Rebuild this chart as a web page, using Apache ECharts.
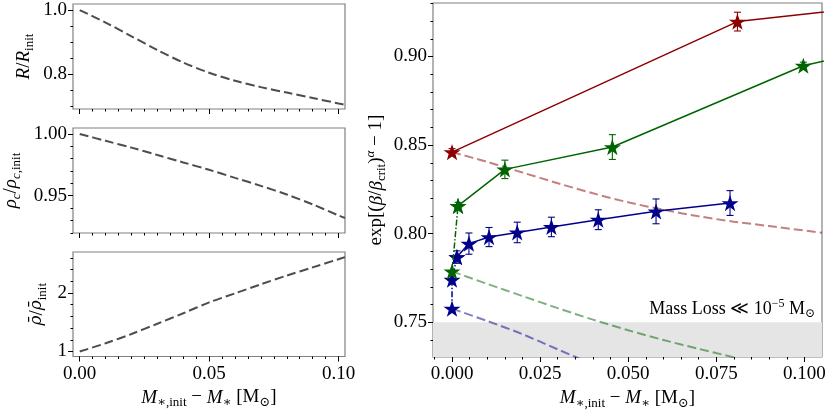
<!DOCTYPE html>
<html>
<head>
<meta charset="utf-8">
<script src="https://cdn.jsdelivr.net/npm/echarts@6/dist/echarts.min.js"></script>
<style>
html, body { margin: 0; padding: 0; background: #fff; }
#chart { width: 830px; height: 415px; }
</style>
</head>
<body>
<div id="chart"></div>
<script>
var FONT = '"Liberation Serif", "DejaVu Serif", serif';

// left column: stellar structure vs. mass lost
var leftX = [0, 0.01, 0.02, 0.03, 0.04, 0.05, 0.06, 0.07, 0.08, 0.09, 0.10, 0.1025];
var radiusRatio = [1.0, 0.961, 0.918, 0.875, 0.836, 0.804, 0.779, 0.759, 0.742, 0.725, 0.708, 0.704];
var centralDensityRatio = [1.0, 0.9945, 0.989, 0.983, 0.977, 0.971, 0.9645, 0.958, 0.951, 0.943, 0.934, 0.932];
var meanDensityRatio = [1.0, 1.14, 1.30, 1.475, 1.655, 1.84, 1.995, 2.15, 2.30, 2.44, 2.58, 2.615];

// right panel: measured points (last red/green point lies past the axis edge)
var redX = [0, 0.081, 0.13];
var redY = [0.846, 0.9197, 0.9305];
var redErr = [0.002, 0.0053, 0];
var greenX = [0.0017, 0.015, 0.0455, 0.0997, 0.13];
var greenY = [0.8157, 0.8363, 0.8489, 0.8948, 0.9085];
var greenErr = [0.002, 0.0052, 0.007, 0.002, 0];
var greenLowX = [0, 0.0017];
var greenLowY = [0.7787, 0.8157];
var blueX = [0.0014, 0.0048, 0.0105, 0.0185, 0.0282, 0.0415, 0.0579, 0.0789];
var blueY = [0.7868, 0.7944, 0.7981, 0.8007, 0.8038, 0.8079, 0.8126, 0.8173];
var blueErr = [0.0035, 0.006, 0.0054, 0.0058, 0.0055, 0.0056, 0.007, 0.007];
var blueLowX = [0, 0, 0.0014];
var blueLowY = [0.7577, 0.774, 0.7868];

// faded model tracks
var trackX = [0, 0.01, 0.02, 0.03, 0.04, 0.05, 0.06, 0.07, 0.08, 0.09, 0.105];
var redTrack = [0.846, 0.8405, 0.8345, 0.8285, 0.8228, 0.8177, 0.8135, 0.8098, 0.8068, 0.8043, 0.8005];
var greenTrackX = [0, 0.01, 0.02, 0.03, 0.04, 0.05, 0.06, 0.07, 0.08];
var greenTrack = [0.7787, 0.7717, 0.7648, 0.758, 0.7515, 0.7455, 0.7400, 0.7350, 0.7302];
var blueTrackX = [0, 0.01, 0.02, 0.03, 0.04];
var blueTrack = [0.7577, 0.7507, 0.7433, 0.7347, 0.7262];
var shadeTop = 0.75;

// ticks
var leftXTicks = [0, 0.05, 0.10];
var rTicks = [0.8, 1.0];
var rhoCTicks = [0.95, 1.00];
var rhoBarTicks = [1, 2];
var rightXTicks = [0, 0.025, 0.05, 0.075, 0.10];
var rightYTicks = [0.75, 0.80, 0.85, 0.90];

function steps(a, b, d) {
    var out = [];
    for (var v = a; v <= b + 1e-9; v += d) out.push(+v.toFixed(6));
    return out;
}

var STAR = 'path://M50,0 L61.8,35.1 L98.1,35.1 L68.8,56.7 L79.4,91.6 L50,70 L20.6,91.6 L31.2,56.7 L1.9,35.1 L38.2,35.1 Z';
var RED = '#8b0000', GREEN = '#006400', BLUE = '#00008b';

var rich = {
    r: { fontFamily: FONT, fontSize: 19, color: '#000' },
    i: { fontFamily: FONT, fontSize: 19, fontStyle: 'italic', color: '#000' },
    ib: { fontFamily: '"DejaVu Serif"', fontSize: 17, fontStyle: 'italic', color: '#000' },
    s: { fontFamily: FONT, fontSize: 13, color: '#000', padding: [11, 0, 0, 0] },
    si: { fontFamily: FONT, fontSize: 13, fontStyle: 'italic', color: '#000', padding: [11, 0, 0, 0] },
    p: { fontFamily: FONT, fontSize: 13, color: '#000', padding: [0, 0, 12, 0] },
    pi: { fontFamily: FONT, fontSize: 13, fontStyle: 'italic', color: '#000', padding: [0, 0, 12, 0] }
};
var massLabel = '{i|M}{s|∗,init}{r| − }{i|M}{s|∗}{r| [M}{s|⊙}{r|]}';

var grids = [], xAxes = [], yAxes = [], series = [];

function addPanel(g, xr, yr, xt, xminor, yt, yminor, xfmt, yfmt, xname, yname, ygap, showX) {
    grids.push(Object.assign({ show: true, borderColor: '#808080', borderWidth: 1.2, outerBoundsMode: 'none' }, g));
    var gi = grids.length - 1;
    var tickStyle = { color: '#000', width: 1 };
    var lab = { fontFamily: FONT, fontSize: 19, color: '#000' };
    var noLine = { show: false, onZero: false };
    xAxes.push({
        type: 'value', gridIndex: gi, position: 'bottom', min: xr[0], max: xr[1],
        axisLine: noLine, splitLine: { show: false },
        axisTick: { show: true, customValues: xt, length: 5, lineStyle: tickStyle },
        axisLabel: Object.assign({ show: showX, customValues: xt, margin: 8, formatter: xfmt }, lab),
        name: xname, nameLocation: 'middle', nameGap: 29,
        nameTextStyle: { rich: rich, fontFamily: FONT, fontSize: 19 }
    });
    var xi = xAxes.length - 1;
    xAxes.push({
        type: 'value', gridIndex: gi, position: 'bottom', min: xr[0], max: xr[1],
        axisLine: noLine, splitLine: { show: false },
        axisTick: { show: true, customValues: xminor, length: 2.5, lineStyle: tickStyle },
        axisLabel: { show: false }
    });
    yAxes.push({
        type: 'value', gridIndex: gi, position: 'left', min: yr[0], max: yr[1],
        axisLine: noLine, splitLine: { show: false },
        axisTick: { show: true, customValues: yt, length: 5, lineStyle: tickStyle },
        axisLabel: Object.assign({ customValues: yt, margin: 6, formatter: yfmt }, lab),
        name: yname, nameLocation: 'middle', nameGap: ygap, nameRotate: 90,
        nameTextStyle: { rich: rich, fontFamily: FONT, fontSize: 19 }
    });
    var yi = yAxes.length - 1;
    yAxes.push({
        type: 'value', gridIndex: gi, position: 'left', min: yr[0], max: yr[1],
        axisLine: noLine, splitLine: { show: false },
        axisTick: { show: true, customValues: yminor, length: 2.5, lineStyle: tickStyle },
        axisLabel: { show: false }
    });
    return [xi, yi];
}

function line(xs, ys, color, dash, width, symbols, ax, z, smooth) {
    return {
        type: 'line', xAxisIndex: ax[0], yAxisIndex: ax[1], z: z,
        data: xs.map(function (x, k) { return [x, ys[k]]; }),
        smooth: smooth || false, clip: true,
        showSymbol: symbols, symbol: STAR, symbolSize: 17, symbolKeepAspect: true,
        itemStyle: { color: color, borderWidth: 0 },
        lineStyle: { color: color, width: width, type: dash },
        emphasis: { disabled: true }, silent: true, animation: false
    };
}

function errorBars(xs, ys, es, color, ax) {
    return {
        type: 'custom', xAxisIndex: ax[0], yAxisIndex: ax[1], z: 4, clip: true,
        data: xs.map(function (x, k) { return [x, ys[k], es[k]]; }),
        encode: { x: 0, y: 1 }, silent: true, animation: false,
        renderItem: function (params, api) {
            var x = api.value(0), y = api.value(1), e = api.value(2);
            var top = api.coord([x, y + e]), bot = api.coord([x, y - e]);
            var cap = 3.5;
            var st = { stroke: color, lineWidth: 1.1 };
            return {
                type: 'group', children: [
                    { type: 'line', shape: { x1: top[0], y1: top[1], x2: bot[0], y2: bot[1] }, style: st },
                    { type: 'line', shape: { x1: top[0] - cap, y1: top[1], x2: top[0] + cap, y2: top[1] }, style: st },
                    { type: 'line', shape: { x1: bot[0] - cap, y1: bot[1], x2: bot[0] + cap, y2: bot[1] }, style: st }
                ]
            };
        }
    };
}

var f2 = function (v) { return v.toFixed(2); };
var LX = [-0.0026, 0.1025];
var leftMinor = steps(0, 0.10, 0.005);

var p1 = addPanel({ left: 73, top: 4, width: 272, height: 105 }, LX, [0.6906, 1.019],
    leftXTicks, leftMinor, rTicks, steps(0.70, 1.0, 0.05), f2, function (v) { return v.toFixed(1); },
    '', '{i|R}{r|/}{i|R}{s|init}', 37, false);
var p2 = addPanel({ left: 73, top: 128, width: 272, height: 105 }, LX, [0.9198, 1.0049],
    leftXTicks, leftMinor, rhoCTicks, steps(0.92, 1.0, 0.01), f2, f2,
    '', '{i|ρ}{si|c}{r|/}{i|ρ}{si|c}{s|,init}', 50, false);
var p3 = addPanel({ left: 73, top: 252, width: 272, height: 104.5 }, LX, [0.914, 2.703],
    leftXTicks, leftMinor, rhoBarTicks, steps(1.0, 2.6, 0.2), f2, function (v) { return v.toFixed(0); },
    massLabel, '{ib|ρ̄}{r|/}{ib|ρ̄}{s|init}', 24, true);
var p4 = addPanel({ left: 433, top: 3, width: 389, height: 354 }, [-0.0054, 0.105], [0.7304, 0.9302],
    rightXTicks, steps(-0.005, 0.10, 0.005), rightYTicks, steps(0.74, 0.93, 0.01),
    function (v) { return v.toFixed(3); }, f2,
    massLabel, '{r|exp[(}{i|β}{r|/}{i|β}{s|crit}{r|)}{pi|α}{r| − 1]}', 44, true);

var GREY = '#4d4d4d';
series.push(line(leftX, radiusRatio, GREY, [9, 4], 2, false, p1, 2, 0.3));
series.push(line(leftX, centralDensityRatio, GREY, [9, 4], 2, false, p2, 2, 0.3));
series.push(line(leftX, meanDensityRatio, GREY, [9, 4], 2, false, p3, 2, 0.3));

// shaded "mass loss << 1e-5" band
var band = line(blueTrackX, blueTrack, 'rgba(0,0,139,0.5)', [9, 4], 2, false, p4, 2, 0.3);
band.markArea = {
    silent: true, z: 0, itemStyle: { color: '#e5e5e5' },
    data: [[{ xAxis: -0.0054, yAxis: 0.7304 }, { xAxis: 0.105, yAxis: shadeTop }]]
};
series.push(band);
series.push(line(greenTrackX, greenTrack, 'rgba(0,100,0,0.5)', [9, 4], 2, false, p4, 2, 0.3));
series.push(line(trackX, redTrack, 'rgba(139,0,0,0.5)', [9, 4], 2, false, p4, 2, 0.3));

series.push(errorBars(blueX, blueY, blueErr, BLUE, p4));
series.push(line(blueLowX, blueLowY, BLUE, [6, 2, 1.5, 2], 1.5, true, p4, 5));
series.push(line(blueX, blueY, BLUE, 'solid', 1.5, true, p4, 5));
series.push(errorBars(greenX, greenY, greenErr, GREEN, p4));
series.push(line(greenLowX, greenLowY, GREEN, [6, 2, 1.5, 2], 1.5, true, p4, 6));
series.push(line(greenX, greenY, GREEN, 'solid', 1.5, true, p4, 6));
series.push(errorBars(redX, redY, redErr, RED, p4));
series.push(line(redX, redY, RED, 'solid', 1.5, true, p4, 7));

var chart = echarts.init(document.getElementById('chart'), null, { renderer: 'canvas' });
chart.setOption({
    backgroundColor: '#fff',
    animation: false,
    grid: grids,
    xAxis: xAxes,
    yAxis: yAxes,
    series: series,
    graphic: [{
        type: 'text', x: 815, y: 309, z: 10,
        style: {
            text: '{r|Mass Loss ≪ 10}{p|−5}{r| M}{s|⊙}',
            rich: {
                r: { fontFamily: FONT, fontSize: 18, fill: '#000' },
                p: { fontFamily: FONT, fontSize: 12, fill: '#000', padding: [0, 0, 11, 0] },
                s: { fontFamily: FONT, fontSize: 12, fill: '#000', padding: [10, 0, 0, 0] }
            },
            align: 'right', verticalAlign: 'middle'
        }
    }]
});
</script>
</body>
</html>
